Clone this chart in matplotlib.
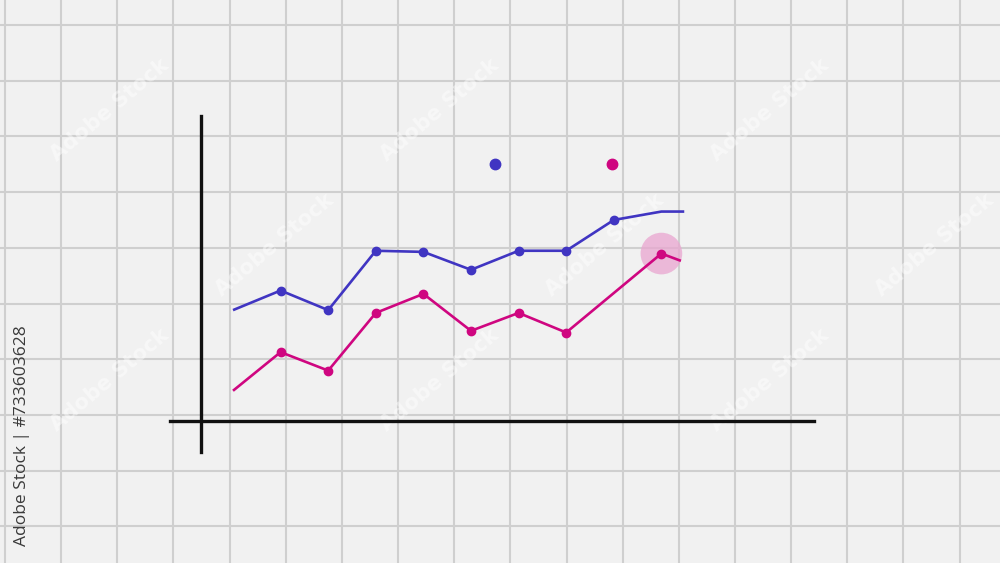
import matplotlib
matplotlib.use("Agg")
import matplotlib.pyplot as plt
import numpy as np

# ---- data ----
blue_x = [0, 1, 2, 3, 4, 5, 6, 7, 8, 9, 9.48]
blue_y = [19.8, 23.3, 19.8, 30.4, 30.2, 27.0, 30.4, 30.4, 35.9, 37.4, 37.4]
blue_markers = [1, 2, 3, 4, 5, 6, 7, 8]

pink_x = [0, 1, 2, 3, 4, 5, 6, 7, 9, 9.41]
pink_y = [5.4, 12.3, 9.0, 19.3, 22.7, 16.1, 19.3, 15.8, 29.9, 28.6]
pink_markers = [1, 2, 3, 4, 5, 6, 7, 8]

highlight_x = [9]
highlight_y = [29.9]

watermark = "Adobe Stock"
credit = "Adobe Stock | #733603628"

BLUE = "#4035c2"
PINK = "#cf0680"
BG = "#f1f1f1"
GRID = "#cfcfcf"

W, H = 1000, 563
fig = plt.figure(figsize=(W / 100, H / 100), dpi=100)
fig.patch.set_facecolor(BG)

# background "graph paper" axes in pixel coords
bg = fig.add_axes([0, 0, 1, 1])
bg.set_xlim(0, W)
bg.set_ylim(H, 0)
bg.axis("off")
for gx in np.arange(5, W, 56.15):
    bg.axvline(gx, color=GRID, lw=1.5, zorder=0)
for gy in np.arange(25, H, 55.7):
    bg.axhline(gy, color=GRID, lw=1.5, zorder=0)

# faint watermark text (kept inside the frame)
for row, yy in enumerate(np.arange(110, H - 50, 135)):
    off = (row % 2) * 165
    for xx in np.arange(110 + off, W - 60, 330):
        bg.text(xx, yy, watermark, color="white", alpha=0.45, fontsize=15,
                rotation=40, ha="center", va="center", zorder=1,
                fontweight="bold")

bg.text(22, 436, credit, rotation=90, color="#3a3a3a",
        fontsize=12.5, ha="center", va="center", family="Open Sans", zorder=5)

# legend dots
bg.plot([495], [164], "o", color=BLUE, ms=7.5, zorder=5)
bg.plot([612], [164], "o", color=PINK, ms=7.5, zorder=5)

# data axes: pixel box x 170..814, y 116..452
x0, x1, y0, y1 = 170, 814, 116, 452
ax = fig.add_axes([x0 / W, 1 - y1 / H, (x1 - x0) / W, (y1 - y0) / H])
ax.patch.set_alpha(0)
step = 47.6
ax.set_xlim((x0 - 233) / step, (x1 - 233) / step)
ax.set_ylim((421 - y1) / 5.6, (421 - y0) / 5.6)
for s in ["top", "right"]:
    ax.spines[s].set_visible(False)
ax.spines["left"].set_position(("data", (201 - 233) / step))
ax.spines["bottom"].set_position(("data", 0))
for s in ["left", "bottom"]:
    ax.spines[s].set_linewidth(2.4)
    ax.spines[s].set_color("#111111")
ax.set_xticks([])
ax.set_yticks([])

ax.scatter(highlight_x, highlight_y, s=900, color="#e9a6d0", alpha=0.75,
           edgecolors="none", zorder=2)
ax.plot(blue_x, blue_y, color=BLUE, lw=1.9, marker="o", ms=6,
        markevery=blue_markers, zorder=3, solid_capstyle="butt")
ax.plot(pink_x, pink_y, color=PINK, lw=1.9, marker="o", ms=6,
        markevery=pink_markers, zorder=3, solid_capstyle="butt")

fig.savefig("out.png", dpi=100, facecolor=BG)
